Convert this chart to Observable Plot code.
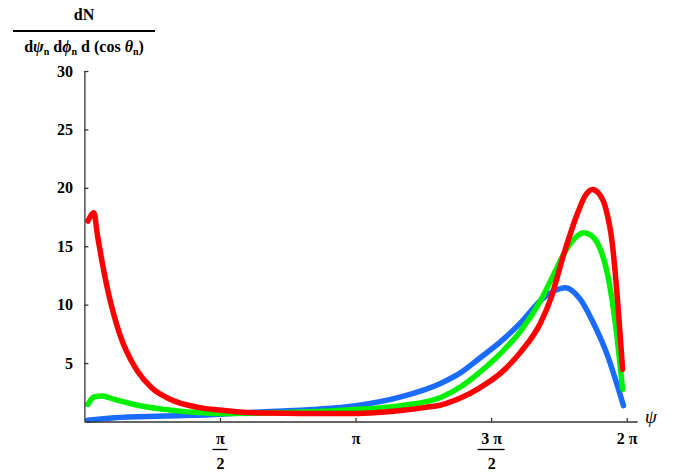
<!DOCTYPE html>
<html><head><meta charset="utf-8">
<script src="https://cdn.jsdelivr.net/npm/d3@7"></script>
<script src="https://cdn.jsdelivr.net/npm/@observablehq/plot@0.6"></script>
<style>
body{margin:0;background:#fff;}
#wrap{position:relative;width:683px;height:473px;font-family:"Liberation Serif","Times New Roman",serif;color:#000;}
#ylab{position:absolute;left:13px;top:0;width:142px;font-weight:bold;font-size:16px;text-align:center;}
#ylab .num{position:absolute;left:0;top:5px;width:100%;line-height:20px;}
#ylab .bar{position:absolute;left:0;top:30px;width:100%;height:1.5px;background:#000;}
#ylab .den{position:absolute;left:0;top:37px;width:100%;line-height:20px;white-space:nowrap;}
#ylab sub{font-size:10px;vertical-align:-3px;line-height:0;}
#ylab i{font-style:italic;}
</style></head>
<body><div id="wrap"></div>
<script>
const xTicks = [Math.PI/2, Math.PI, 3*Math.PI/2, 2*Math.PI];
const xTickNum = ["π", "π", "3 π", "2 π"];
const xTickDen = ["2", "", "2", ""];
const yTicks = [5, 10, 15, 20, 25, 30];
const seriesNames = ["curve 1", "curve 2", "curve 3"];
const seriesColors = ["#1a6bff", "#00f000", "#ff0000"];

const bluePsi = [0.03, 0.34, 0.92, 1.58, 1.92, 2.3, 2.7, 3.14, 3.66, 4.12, 4.35, 4.58, 4.82, 5.05, 5.28, 5.43, 5.57, 5.74, 5.89, 6.06, 6.17, 6.24];
const blueVal = [0.15, 0.37, 0.51, 0.66, 0.82, 0.95, 1.1, 1.4, 2.15, 3.3, 4.2, 5.5, 6.9, 8.5, 10.4, 11.2, 11.5, 10.5, 8.5, 5.6, 3.1, 1.4];

const greenPsi = [0.035, 0.105, 0.2, 0.34, 0.57, 0.92, 1.31, 1.69, 2.0, 2.5, 3.08, 3.66, 4.12, 4.35, 4.58, 4.82, 5.05, 5.28, 5.43, 5.55, 5.66, 5.78, 5.86, 5.94, 6.06, 6.15, 6.23];
const greenVal = [1.5, 2.14, 2.22, 1.94, 1.5, 1.08, 0.82, 0.72, 0.74, 0.85, 1.05, 1.4, 2.1, 3.0, 4.3, 5.9, 7.8, 10.4, 12.6, 14.4, 15.6, 16.2, 16.0, 15.3, 12.5, 8.2, 2.8];

const redPsi = [0.035, 0.105, 0.145, 0.185, 0.225, 0.28, 0.335, 0.40, 0.45, 0.53, 0.61, 0.77, 1.0, 1.31, 1.58, 1.8, 2.1, 2.5, 3.0, 3.35, 3.66, 3.95, 4.12, 4.35, 4.58, 4.82, 5.05, 5.28, 5.40, 5.55, 5.71, 5.80, 5.88, 5.95, 6.03, 6.11, 6.18, 6.23];
const redVal = [17.2, 17.9, 16.0, 14.3, 12.7, 10.8, 9.2, 7.6, 6.6, 5.35, 4.35, 2.95, 1.9, 1.25, 1.0, 0.85, 0.76, 0.72, 0.72, 0.8, 0.98, 1.25, 1.45, 2.05, 2.95, 4.2, 6.0, 8.5, 10.6, 14.4, 17.9, 19.4, 19.9, 19.6, 18.4, 15.3, 9.6, 4.5];

const rows = [];
[[bluePsi, blueVal], [greenPsi, greenVal], [redPsi, redVal]].forEach(([ps, vs], si) => {
  ps.forEach((p, i) => rows.push({s: seriesNames[si], psi: p, v: vs[i]}));
});

const W = 683, H = 473, mL = 84.4, mR = 56.3, mT = 71, mB = 51.5;
const kx = (W - mL - mR) / (2 * Math.PI);
const ky = (H - mT - mB) / 30;
const axisColor = "#333";
const fracIdx = xTicks.map((d, i) => i).filter(i => xTickDen[i] !== "");
const half = i => (xTickNum[i].length > 1 ? 13.5 : 7.5) / kx;

const plot = Plot.plot({
  width: W, height: H,
  marginLeft: mL, marginRight: mR, marginTop: mT, marginBottom: mB,
  x: {domain: [0, 2 * Math.PI], axis: null},
  y: {domain: [0, 30], axis: null},
  color: {domain: seriesNames, range: seriesColors},
  style: {fontFamily: "Liberation Serif, serif", fontSize: "16px", fontWeight: "bold", background: "#fff", overflow: "visible", color: "#000"},
  marks: [
    Plot.line(rows, {x: "psi", y: "v", z: "s", stroke: "s", strokeWidth: 5.5, curve: "monotone-x", strokeLinejoin: "round"}),
    Plot.ruleY([0], {x1: 0, x2: 2 * Math.PI + 11 / kx, stroke: axisColor, strokeWidth: 1.3}),
    Plot.ruleX([0], {y1: 0, y2: 30, stroke: axisColor, strokeWidth: 1.3}),
    Plot.ruleY(yTicks, {x1: 0, x2: 4 / kx, stroke: axisColor, strokeWidth: 1.3}),
    Plot.ruleX(xTicks, {y1: 0, y2: 3.5 / ky, stroke: axisColor, strokeWidth: 1.3}),
    Plot.text(yTicks, {x: 0, y: d => d, text: d => String(d), textAnchor: "end", dx: -12, fill: "#000", fontWeight: "bold", fontSize: 16}),
    Plot.text(xTicks, {x: d => d, y: 0, text: (d, i) => xTickNum[i], dy: 16.5, fill: "#000", fontWeight: "bold", fontSize: 16}),
    Plot.text(xTicks, {x: d => d, y: 0, text: (d, i) => xTickDen[i], dy: 41.5, fill: "#000", fontWeight: "bold", fontSize: 16}),
    Plot.ruleY(fracIdx, {y: () => 0, x1: i => xTicks[i] - half(i), x2: i => xTicks[i] + half(i), dy: 27.5, stroke: "#000", strokeWidth: 1.3}),
    Plot.text(["ψ"], {frameAnchor: "bottom-right", text: d => d, dx: 29.5, dy: 1, fontStyle: "italic", fontWeight: "normal", fontSize: 19, fill: "#000"})
  ]
});
const wrap = document.getElementById("wrap");
wrap.appendChild(plot);
const lab = document.createElement("div");
lab.id = "ylab";
lab.innerHTML = '<div class="num">dN</div><div class="bar"></div>' +
  '<div class="den">d<i>ψ</i><sub>n</sub> d<i>ϕ</i><sub>n</sub> d (cos <i>θ</i><sub>n</sub>)</div>';
wrap.appendChild(lab);
</script>
</body></html>
